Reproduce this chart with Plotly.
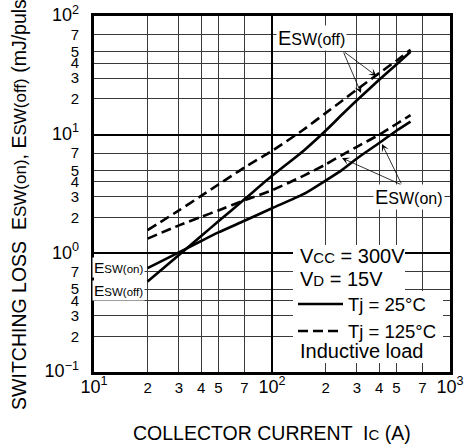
import math
import plotly.graph_objects as go

# ---------------- data ----------------
ic = [20, 30, 40, 50, 70, 100, 150, 200, 250, 300, 400, 500, 600]
esw_off_25 = [0.58, 0.97, 1.40, 1.86, 2.85, 4.5, 7.3, 10.8, 15.0, 19.5, 29.0, 39.0, 50.0]
esw_off_125 = [1.57, 2.30, 3.05, 3.80, 5.3, 7.3, 11.0, 15.2, 19.5, 24.0, 33.0, 42.0, 52.0]
esw_on_25 = [0.75, 1.02, 1.27, 1.50, 1.88, 2.4, 3.15, 4.1, 5.1, 6.3, 8.5, 10.8, 12.9]
esw_on_125 = [1.33, 1.72, 2.03, 2.30, 2.80, 3.4, 4.5, 5.6, 6.8, 7.9, 10.0, 12.3, 14.6]

x_ticks = [10, 20, 30, 40, 50, 70, 100, 200, 300, 400, 500, 700, 1000]
y_ticks = [0.1, 0.2, 0.3, 0.4, 0.5, 0.7, 1, 2, 3, 4, 5, 7, 10, 20, 30, 40, 50, 70, 100]
x_decades = [10, 100, 1000]
y_decades = [0.1, 1, 10, 100]

FONT = "Liberation Sans, Arial, sans-serif"


def tick_label(v):
    e = math.log10(v)
    if abs(e - round(e)) < 1e-9:
        s = str(int(round(e))).replace("-", "\u2212")
        return f'<span style="font-size:18px">10<sup>{s}</sup></span>'
    m = v / 10 ** math.floor(e + 1e-9)
    return str(int(round(m)))


def esw(sub, small):
    return f'E<span style="font-size:{small}px">SW({sub})</span>'


line_solid = dict(color="black", width=2.6, shape="spline", smoothing=0.6)
line_dash = dict(color="black", width=2.6, dash="10px,5px", shape="spline", smoothing=0.6)

fig = go.Figure()
fig.add_trace(go.Scatter(x=ic, y=esw_off_25, mode="lines", line=line_solid,
                         name="Tj = 25°C", legendgroup="25", showlegend=True))
fig.add_trace(go.Scatter(x=ic, y=esw_off_125, mode="lines", line=line_dash,
                         name="Tj = 125°C", legendgroup="125", showlegend=True))
fig.add_trace(go.Scatter(x=ic, y=esw_on_25, mode="lines", line=line_solid,
                         name="Tj = 25°C", legendgroup="25", showlegend=False))
fig.add_trace(go.Scatter(x=ic, y=esw_on_125, mode="lines", line=line_dash,
                         name="Tj = 125°C", legendgroup="125", showlegend=False))
# empty trace that holds the overlay axes used for the heavier decade grid lines
fig.add_trace(go.Scatter(x=[], y=[], xaxis="x2", yaxis="y2", showlegend=False, hoverinfo="skip"))

axis_common = dict(type="log", showline=True, mirror=True, linewidth=3, linecolor="black",
                   showgrid=True, gridcolor="#3a3a3a", gridwidth=1, ticks="", automargin=False,
                   tickfont=dict(family=FONT, size=15, color="black"), zeroline=False)
overlay_common = dict(type="log", tickmode="array", showticklabels=False, ticks="", showline=False,
                      showgrid=True, gridcolor="black", gridwidth=2, zeroline=False, automargin=False)

fig.update_layout(
    width=470, height=445,
    margin=dict(l=94, r=20, t=16, b=73, autoexpand=False),
    paper_bgcolor="white", plot_bgcolor="white",
    font=dict(family=FONT, color="black"),
    xaxis=dict(axis_common, range=[1, 3], tickmode="array", tickvals=x_ticks,
               ticktext=[tick_label(v) for v in x_ticks], ticklabelstandoff=0),
    yaxis=dict(axis_common, range=[-1, 2], tickmode="array", tickvals=y_ticks,
               ticktext=[tick_label(v) for v in y_ticks], ticklabelstandoff=9),
    xaxis2=dict(overlay_common, range=[1, 3], overlaying="x", anchor="y2", tickvals=x_decades),
    yaxis2=dict(overlay_common, range=[-1, 2], overlaying="y", anchor="x2", tickvals=y_decades),
    legend=dict(x=0.559, y=0.243, xanchor="left", yanchor="top",
                bgcolor="rgba(0,0,0,0)", font=dict(family=FONT, size=18.5, color="black"),
                itemwidth=45, tracegroupgap=0),
    showlegend=True,
)

# white panels behind the condition box
fig.add_shape(type="rect", xref="paper", yref="paper", x0=0.559, x1=0.8736, y0=0.2275, y1=0.3567,
              fillcolor="white", line=dict(width=0), layer="above")
fig.add_shape(type="rect", xref="paper", yref="paper", x0=0.559, x1=0.9803, y0=0.0253, y1=0.2275,
              fillcolor="white", line=dict(width=0), layer="above")

ann = []
# condition text
ann.append(dict(text='V<span style="font-size:15px">CC</span> = 300V', x=0.573, y=0.3272,
                xref="paper", yref="paper", xanchor="left", yanchor="middle", showarrow=False,
                font=dict(size=20)))
ann.append(dict(text='V<span style="font-size:15px">D</span> = 15V', x=0.573, y=0.2612,
                xref="paper", yref="paper", xanchor="left", yanchor="middle", showarrow=False,
                font=dict(size=20)))
ann.append(dict(text="Inductive load", x=0.573, y=0.0576,
                xref="paper", yref="paper", xanchor="left", yanchor="middle", showarrow=False,
                font=dict(size=20)))

# curve labels
ann.append(dict(text=esw("off", 16), x=0.6096, y=0.9368, xref="paper", yref="paper",
                xanchor="center", yanchor="middle", showarrow=False, bgcolor="white",
                borderpad=1, font=dict(size=20)))
ann.append(dict(text=esw("on", 16), x=0.8848, y=0.4902, xref="paper", yref="paper",
                xanchor="center", yanchor="middle", showarrow=False, bgcolor="white",
                borderpad=1, font=dict(size=20)))
ann.append(dict(text=esw("on", 11.5), x=0.1433, y=0.2935, xref="paper", yref="paper",
                xanchor="right", yanchor="middle", showarrow=False, bgcolor="white",
                borderpad=1, font=dict(size=15.5)))
ann.append(dict(text=esw("off", 11.5), x=0.1433, y=0.2303, xref="paper", yref="paper",
                xanchor="right", yanchor="middle", showarrow=False, bgcolor="white",
                borderpad=1, font=dict(size=15.5)))

# leader arrows (log10 coordinates)
arrows = [
    ((2.399, 1.705), (2.587, 1.494)),
    ((2.399, 1.705), (2.500, 1.351)),
    ((2.730, 0.576), (2.393, 0.803)),
    ((2.730, 0.576), (2.618, 0.921)),
]
for (sx, sy), (tx, ty) in arrows:
    ann.append(dict(text="", x=tx, y=ty, ax=sx, ay=sy, xref="x", yref="y", axref="x", ayref="y",
                    showarrow=True, arrowhead=3, arrowsize=1.6, arrowwidth=0.8, arrowcolor="black",
                    standoff=0, startstandoff=0))

# axis titles and top title
ann.append(dict(text="COLLECTOR CURRENT  I<span style=\"font-size:15px\">C</span> (A)",
                x=0.5, y=-0.1713, xref="paper", yref="paper", xanchor="center", yanchor="middle",
                showarrow=False, font=dict(size=19.5)))
ann.append(dict(text="SWITCHING LOSS  " + esw("on", 17) + ", " + esw("off", 17) + " (mJ/pulse)",
                x=-0.211, y=-0.1124, xref="paper", yref="paper", xanchor="center", yanchor="bottom",
                textangle=-90, showarrow=False, font=dict(size=19.5)))
ann.append(dict(text="(TYPICAL)", x=0.49, y=1.046, xref="paper", yref="paper",
                xanchor="center", yanchor="bottom", showarrow=False, borderpad=0,
                font=dict(size=20)))

fig.update_layout(annotations=ann)

fig.write_html("out.html", config={"displayModeBar": False},
               post_script="document.body.style.margin='0px';")
